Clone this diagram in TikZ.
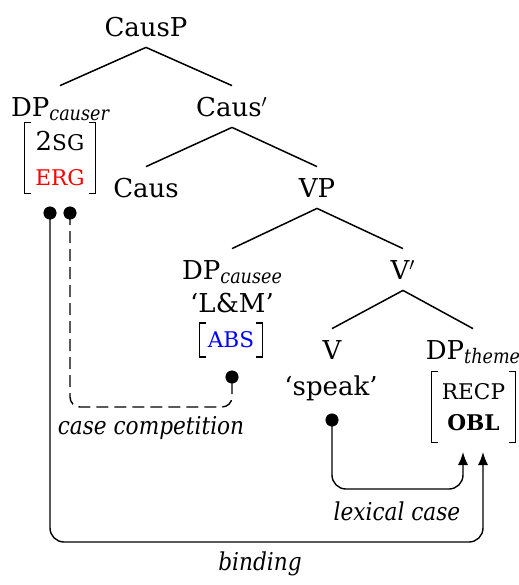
\documentclass[tikz,border=0pt]{standalone}
\usepackage{fontspec}
\setmainfont{DejaVu Serif}
\newfontfamily\condit{DejaVu Serif}[FakeStretch=0.88]
\usetikzlibrary{arrows.meta}
\newcommand{\fsc}[1]{{\fontsize{10.8}{12}\selectfont #1}}
\begin{document}
\begin{tikzpicture}[x=0.5pt,y=-0.5pt,
  every node/.style={font=\fontsize{13}{16}\selectfont},
  tn/.style={anchor=base, inner xsep=0pt, inner ysep=5.5pt, text height=9.5pt, text depth=0pt},
  lab/.style={anchor=base, inner sep=0pt, font=\fontsize{12.3}{16}\selectfont\condit\itshape},
  fs/.style={inner sep=0pt, align=center},
  dot/.style={circle, fill=black, inner sep=0pt, minimum size=6.4pt},
  edge/.style={line width=0.75pt},
  conn/.style={line width=0.7pt, rounded corners=7pt},
  arr/.style={conn, -{Latex[length=6.5pt,width=5pt]}},
  brk/.style={line width=0.65pt}
]
\useasboundingbox (0,0) rectangle (519,585);
\newcommand{\sbs}[1]{\raisebox{-0.35ex}{\fontsize{10}{12}\selectfont\condit\itshape #1}}

% tree nodes
\node[tn] (causp) at (146,36) {CausP};
\node[tn] (dpcauser) at (60,116) {DP\sbs{causer}};
\node[tn] (causbar) at (232,116) {Caus$'$};
\node[tn] (caus) at (146,197) {Caus};
\node[tn] (vp) at (317,197) {VP};
\node[tn] (dpcausee) at (232,279) {DP\sbs{causee}};
\node[tn] (vbar) at (403,279) {V$'$};
\node[tn] (v) at (332,359) {V};
\node[tn] (dptheme) at (473,359) {DP\sbs{theme}};

% edges
\draw[edge] (causp.south) -- (dpcauser.north);
\draw[edge] (causp.south) -- (causbar.north);
\draw[edge] (causbar.south) -- (caus.north);
\draw[edge] (causbar.south) -- (vp.north);
\draw[edge] (vp.south) -- (dpcausee.north);
\draw[edge] (vp.south) -- (vbar.north);
\draw[edge] (vbar.south) -- (v.north);
\draw[edge] (vbar.south) -- (dptheme.north);

% extra text lines
\node[anchor=base, inner sep=0pt] (lm) at (232,312) {`L\&M'};
\node[anchor=base, inner sep=0pt] (speak) at (331,395) {`speak'};

% feature structures
\node[fs, minimum width=35pt, minimum height=35pt, font=\fontsize{13}{17.5}\selectfont] (fcauser) at (60,158)
  {2\fsc{SG}\\\textcolor{red}{\fsc{ERG}}};
\node[fs, minimum width=31pt, minimum height=16.5pt] (fcausee) at (231,340)
  {\textcolor{blue}{\fsc{ABS}}};
\node[fs, minimum width=41.5pt, minimum height=35pt, font=\fontsize{13}{15.5}\selectfont] (ftheme) at (473.5,407)
  {\fsc{RECP}\\\textbf{\fsc{OBL}}};

\foreach \f in {fcauser,fcausee,ftheme}{
  \draw[brk] ([xshift=3.2pt]\f.north west) -- (\f.north west) -- (\f.south west) -- ([xshift=3.2pt]\f.south west);
  \draw[brk] ([xshift=-3.2pt]\f.north east) -- (\f.north east) -- (\f.south east) -- ([xshift=-3.2pt]\f.south east);
}

% dots
\node[dot] (d1) at (50,213) {};
\node[dot] (d2) at (70,213) {};
\node[dot] (d4) at (232,377) {};
\node[dot] (d3) at (332,420) {};

% targets and corners
\coordinate (t1) at (463,452);
\coordinate (t2) at (483,452);
\coordinate (cc) at (232,407);
\coordinate (lc) at (463,489);
\coordinate (bc) at (483,542);

% connectors
\draw[conn, dash pattern=on 6pt off 3pt, rounded corners=5pt] (d2.center) |- (cc) -- (d4.center);
\draw[arr] (d3.center) |- (lc) -- (t1);
\draw[arr] (d1.center) |- (bc) -- (t2);
\node[dot] at (d1) {};
\node[dot] at (d2) {};
\node[dot] at (d3) {};
\node[dot] at (d4) {};

% labels
\node[lab] (lcomp) at (151,434) {case competition};
\node[lab] (llex) at (397,520) {lexical case};
\node[lab] (lbind) at (260,570) {binding};
\end{tikzpicture}
\end{document}
